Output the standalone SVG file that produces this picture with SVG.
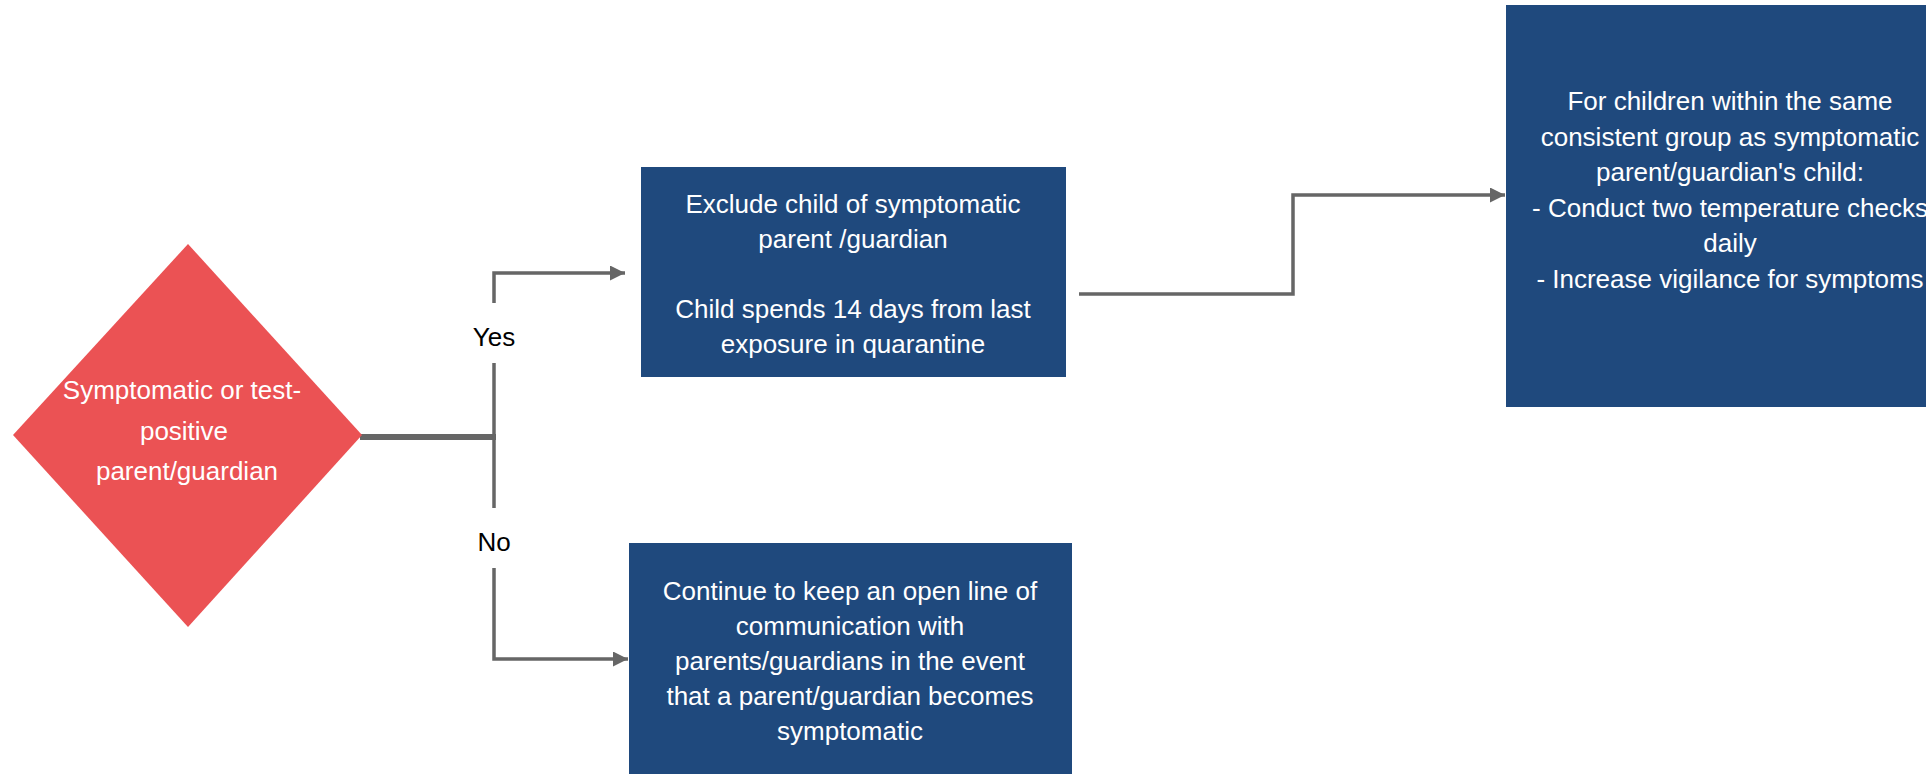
<svg xmlns="http://www.w3.org/2000/svg" width="1926" height="774" viewBox="0 0 1926 774">
  <style>
    .box { fill: #1F497D; }
    .dec { fill: #EB5254; }
    .wt { fill: #FFFFFF; font-family: "Liberation Sans", Arial, sans-serif; font-size: 26px; text-anchor: middle; }
    .lbl { fill: #000000; font-family: "Liberation Sans", Arial, sans-serif; font-size: 26px; text-anchor: middle; }
    .ln { fill: none; stroke: #666666; stroke-width: 3.5; }
    .thick { fill: none; stroke: #666666; stroke-width: 6; }
  </style>
  <defs>
    <marker id="arr" markerUnits="userSpaceOnUse" markerWidth="16" markerHeight="16" refX="15" refY="7.5" orient="auto">
      <path d="M0,0 L15,7.5 L0,15 Z" fill="#666666"/>
    </marker>
  </defs>
  <rect width="1926" height="774" fill="#FFFFFF"/>

  <g id="connectors">
    <path class="thick" d="M360,437 H496"/>
    <path class="ln" d="M494,303 V273 H625" marker-end="url(#arr)"/>
    <path class="ln" d="M494,363 V508"/>
    <path class="ln" d="M494,568 V659 H628" marker-end="url(#arr)"/>
    <path class="ln" d="M1079,294 H1293 V195 H1505" marker-end="url(#arr)"/>
    <text class="lbl" x="494" y="346">Yes</text>
    <text class="lbl" x="494" y="551">No</text>
  </g>

  <g id="decision">
    <polygon class="dec" points="188,244 362,435 188,627 13,435"/>
    <text class="wt"><tspan x="182" y="399">Symptomatic or test-</tspan><tspan x="184" y="440">positive</tspan><tspan x="187" y="480">parent/guardian</tspan></text>
  </g>

  <g id="exclude">
    <rect class="box" x="641" y="167" width="425" height="210"/>
    <text class="wt"><tspan x="853" y="213">Exclude child of symptomatic</tspan><tspan x="853" y="248">parent /guardian</tspan><tspan x="853" y="318">Child spends 14 days from last</tspan><tspan x="853" y="353">exposure in quarantine</tspan></text>
  </g>

  <g id="group-children">
    <rect class="box" x="1506" y="5" width="460" height="402"/>
    <text class="wt"><tspan x="1730" y="110">For children within the same</tspan><tspan x="1730" y="145.5">consistent group as symptomatic</tspan><tspan x="1730" y="181">parent/guardian's child:</tspan><tspan x="1730" y="216.5">- Conduct two temperature checks</tspan><tspan x="1730" y="252">daily</tspan><tspan x="1730" y="287.5">- Increase vigilance for symptoms</tspan></text>
  </g>

  <g id="continue">
    <rect class="box" x="629" y="543" width="443" height="240"/>
    <text class="wt"><tspan x="850" y="600">Continue to keep an open line of</tspan><tspan x="850" y="635">communication with</tspan><tspan x="850" y="670">parents/guardians in the event</tspan><tspan x="850" y="705">that a parent/guardian becomes</tspan><tspan x="850" y="740">symptomatic</tspan></text>
  </g>
</svg>
